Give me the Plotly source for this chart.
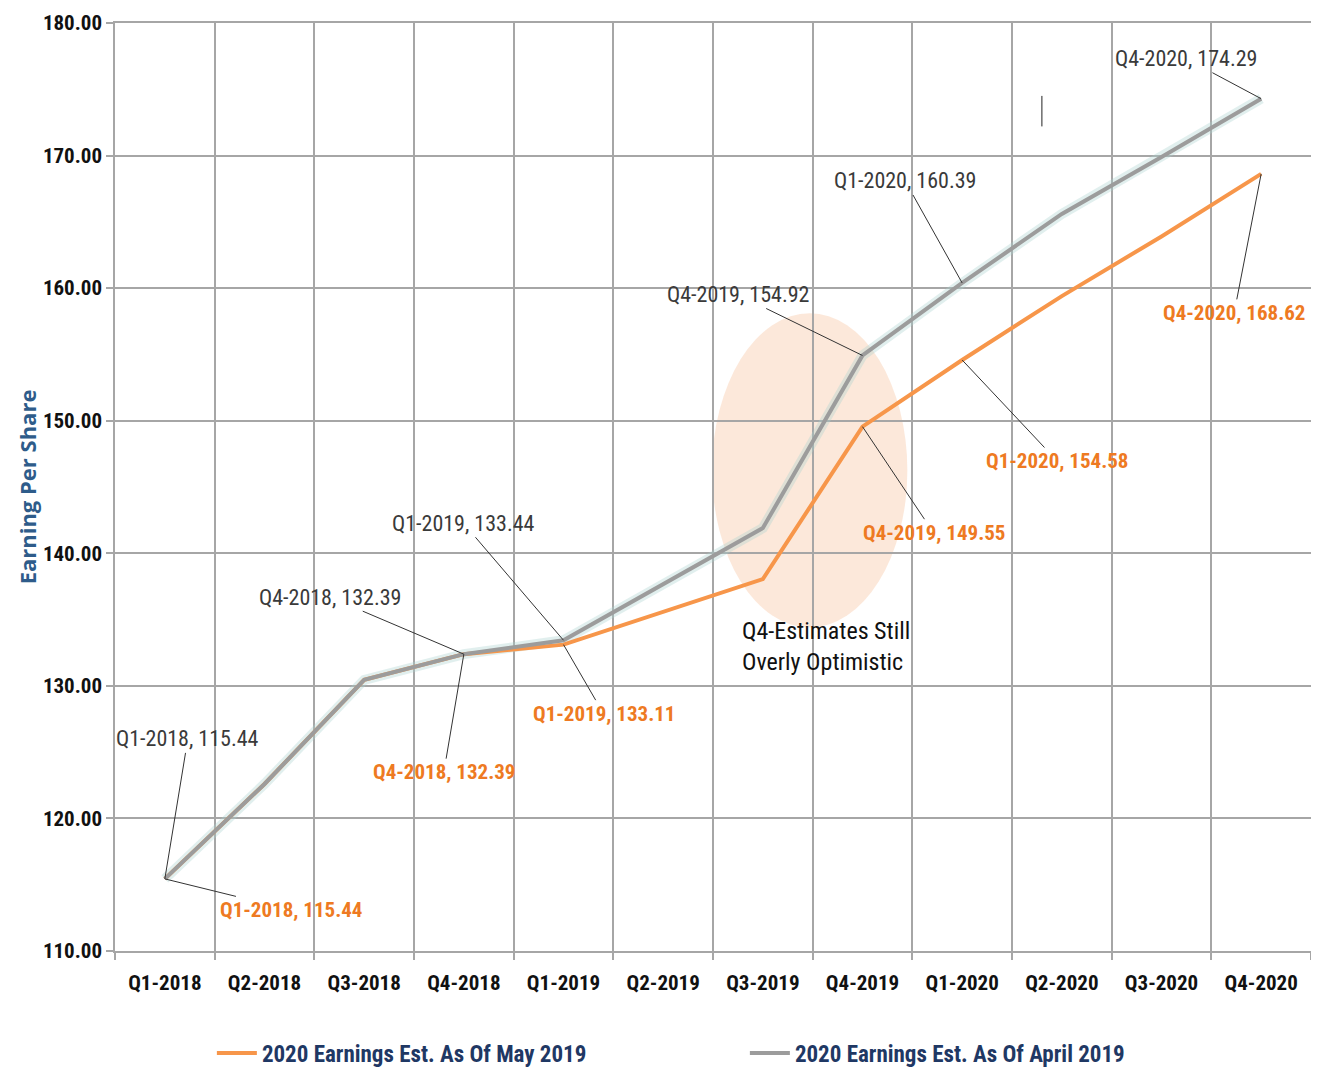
import plotly.graph_objects as go

categories = ["Q1-2018", "Q2-2018", "Q3-2018", "Q4-2018", "Q1-2019", "Q2-2019",
              "Q3-2019", "Q4-2019", "Q1-2020", "Q2-2020", "Q3-2020", "Q4-2020"]
est_may_2019 = [115.44, 122.6, 130.45, 132.39, 133.11, 135.6, 138.05, 149.55,
                154.58, 159.4, 163.9, 168.62]
est_april_2019 = [115.44, 122.6, 130.45, 132.39, 133.44, 137.7, 141.9, 154.92,
                  160.39, 165.6, 169.9, 174.29]
y_ticks = [110, 120, 130, 140, 150, 160, 170, 180]

label_idx = [0, 3, 4, 7, 8, 11]
# label offsets (pixels) for the callouts
gray_off = [(23, -140), (-134, -57), (-100, -117), (-125, -61), (-57, -102), (-75, -40)]
orange_off = [(126, 31), (-20, 118), (40, 69), (71, 106), (95, 101), (-27, 139)]

FONT = "Liberation Sans Narrow, Roboto Condensed, DejaVu Sans Condensed, Arial Narrow, sans-serif"
ORANGE = "#F7964A"
ORANGE_TXT = "#EE7A22"
GRAY = "#9C9C9C"
GRAY_TXT = "#3A3A3A"
NAVY = "#1F3864"

fig = go.Figure()

# soft glow under the grey line
fig.add_trace(go.Scatter(x=categories, y=est_april_2019, mode="lines",
                         line=dict(color="rgba(170,210,205,0.35)", width=10),
                         showlegend=False, hoverinfo="skip"))
fig.add_trace(go.Scatter(x=categories, y=est_may_2019, mode="lines",
                         name="2020 Earnings Est. As Of May 2019",
                         line=dict(color=ORANGE, width=4)))
fig.add_trace(go.Scatter(x=categories, y=est_april_2019, mode="lines",
                         name="2020 Earnings Est. As Of April 2019",
                         line=dict(color=GRAY, width=4)))

for i, (ax, ay) in zip(label_idx, gray_off):
    fig.add_annotation(x=categories[i], y=est_april_2019[i], ax=ax, ay=ay,
                       text=f"{categories[i]}, {est_april_2019[i]:.2f}",
                       showarrow=True, arrowhead=0, arrowwidth=1, arrowcolor="#333333",
                       font=dict(family=FONT, size=22, color=GRAY_TXT))
for i, (ax, ay) in zip(label_idx, orange_off):
    fig.add_annotation(x=categories[i], y=est_may_2019[i], ax=ax, ay=ay,
                       text=f"{categories[i]}, {est_may_2019[i]:.2f}",
                       showarrow=True, arrowhead=0, arrowwidth=1, arrowcolor="#333333",
                       font=dict(family=FONT, size=21, color=ORANGE_TXT, weight="bold"))

# highlight ellipse
fig.add_shape(type="circle", xref="x", yref="y", x0=5.49, x1=7.45, y0=134.4, y1=158.1,
              fillcolor="rgba(248,203,173,0.45)", line=dict(width=0), layer="below")
fig.add_annotation(x=5.77, y=133.0, xanchor="left", yanchor="middle", showarrow=False,
                   align="left", text="Q4-Estimates Still<br>Overly Optimistic",
                   font=dict(family=FONT, size=24, color="#111111"))
# small stray tick mark
fig.add_shape(type="line", xref="x", yref="y", x0=8.8, x1=8.8, y0=172.2, y1=174.5,
              line=dict(color="#222222", width=1))

fig.update_layout(
    width=1311, height=1063,
    margin=dict(l=107, r=8, t=15, b=120, autoexpand=False),
    paper_bgcolor="white", plot_bgcolor="white",
    font=dict(family=FONT, color="#111111"),
    showlegend=True,
    legend=dict(orientation="h", x=0.081, xanchor="left", y=-0.11, yanchor="middle",
                entrywidth=478, entrywidthmode="pixels",
                font=dict(family=FONT, size=23, color=NAVY, weight="bold"), itemwidth=40,
                traceorder="normal"),
)
fig.update_xaxes(type="category", categoryorder="array", categoryarray=categories,
                 range=[-0.5, 11.5], tickson="boundaries", showgrid=True,
                 gridcolor="#A6A6A6", gridwidth=1.5, ticks="outside", ticklen=7,
                 tickcolor="#A6A6A6", tickwidth=1.5, ticklabelstandoff=12,
                 ticklabeloverflow="allow",
                 showline=True, linecolor="#A6A6A6", linewidth=1.5, mirror=True,
                 tickfont=dict(family=FONT, size=21, color="#111111", weight="bold"),
                 zeroline=False)
fig.update_yaxes(range=[110, 180], tickvals=y_ticks,
                 ticktext=[f"{v:.2f}" for v in y_ticks],
                 showgrid=True, gridcolor="#A6A6A6", gridwidth=1.5,
                 ticks="outside", ticklen=7, tickcolor="#A6A6A6", tickwidth=1.5,
                 ticklabeloverflow="allow",
                 showline=True, linecolor="#A6A6A6", linewidth=1.5, mirror=True,
                 tickfont=dict(family=FONT, size=21, color="#111111", weight="bold"),
                 zeroline=False,
                 title=dict(text="Earning Per Share", standoff=0,
                            font=dict(family="Open Sans, sans-serif", size=22,
                                      color="#2E5C8A", weight="bold")))

fig.write_html("out.html")
